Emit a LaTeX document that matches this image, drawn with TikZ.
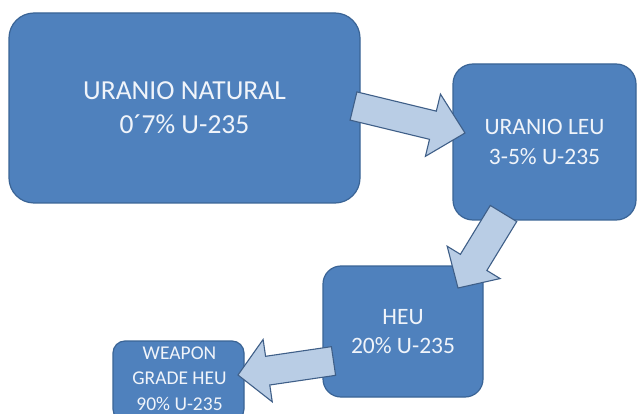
\documentclass[tikz,border=0pt]{standalone}
\usepackage{fontspec}
\setmainfont{Carlito}
\usetikzlibrary{calc}
\definecolor{boxfill}{HTML}{4F81BD}
\definecolor{boxline}{HTML}{3A6496}
\definecolor{arrfill}{HTML}{B9CDE5}
\definecolor{arrline}{HTML}{3F5F88}
\definecolor{txt}{HTML}{F0F4FA}
% tail, tip, half shaft width, half head width, head length
\newcommand\blkarrow[5]{%
  \coordinate (H) at ($(#2)!#5!(#1)$);
  \draw[arrowbody]
    ($(#1)!#3!90:(#2)$) -- ($(H)!#3!90:(#2)$) -- ($(H)!#4!90:(#2)$) --
    (#2) --
    ($(H)!#4!-90:(#2)$) -- ($(H)!#3!-90:(#2)$) -- ($(#1)!#3!-90:(#2)$) -- cycle;
}
\begin{document}
\begin{tikzpicture}[x=1pt,y=-1pt,
  box/.style={draw=boxline, line width=1.2pt, fill=boxfill, text=txt,
    align=center, inner sep=0pt},
  boxtext/.style={text=txt, align=center, inner sep=0pt},
  arrowbody/.style={draw=arrline, line width=1.1pt, fill=arrfill, line join=miter}]
\useasboundingbox (0,0) rectangle (637,414);
\clip (0,0) rectangle (637,414);
\fill[white] (0,0) rectangle (637,414);

\node[box, rounded corners=25pt, minimum width=351pt, minimum height=190pt,
  font=\fontsize{27.5}{34}\selectfont] (nat) at (184.5,108)
  {URANIO NATURAL\\0´7\% U-235};
\node[box, rounded corners=20pt, minimum width=183pt, minimum height=156pt,
  font=\fontsize{23.5}{30}\selectfont] (leu) at (544.5,142)
  {URANIO LEU\\3-5\% U-235};
\node[box, rounded corners=18pt, minimum width=160pt, minimum height=131pt,
  font=\fontsize{23.5}{28.5}\selectfont] (heu) at (403,331.5)
  {HEU\\20\% U-235};
\node[box, rounded corners=12pt, minimum width=131pt, minimum height=80pt]
  (wg) at (178.5,381) {};
\node[boxtext, font=\fontsize{19.5}{25.5}\selectfont] (wglabel) at (179.5,378.5)
  {WEAPON\\GRADE HEU\\90\% U-235};

\coordinate (a1t) at (353.5,106);
\coordinate (a1h) at (465,133);
\coordinate (a2t) at (503.5,213.5);
\coordinate (a2h) at (458,288);
\coordinate (a3t) at (333.5,361);
\coordinate (a3h) at (238,375);

\blkarrow{a1t}{a1h}{14.5pt}{32pt}{33pt}
\blkarrow{a2t}{a2h}{15.5pt}{31pt}{30pt}
\blkarrow{a3t}{a3h}{14.5pt}{31.5pt}{30pt}
\end{tikzpicture}
\end{document}
